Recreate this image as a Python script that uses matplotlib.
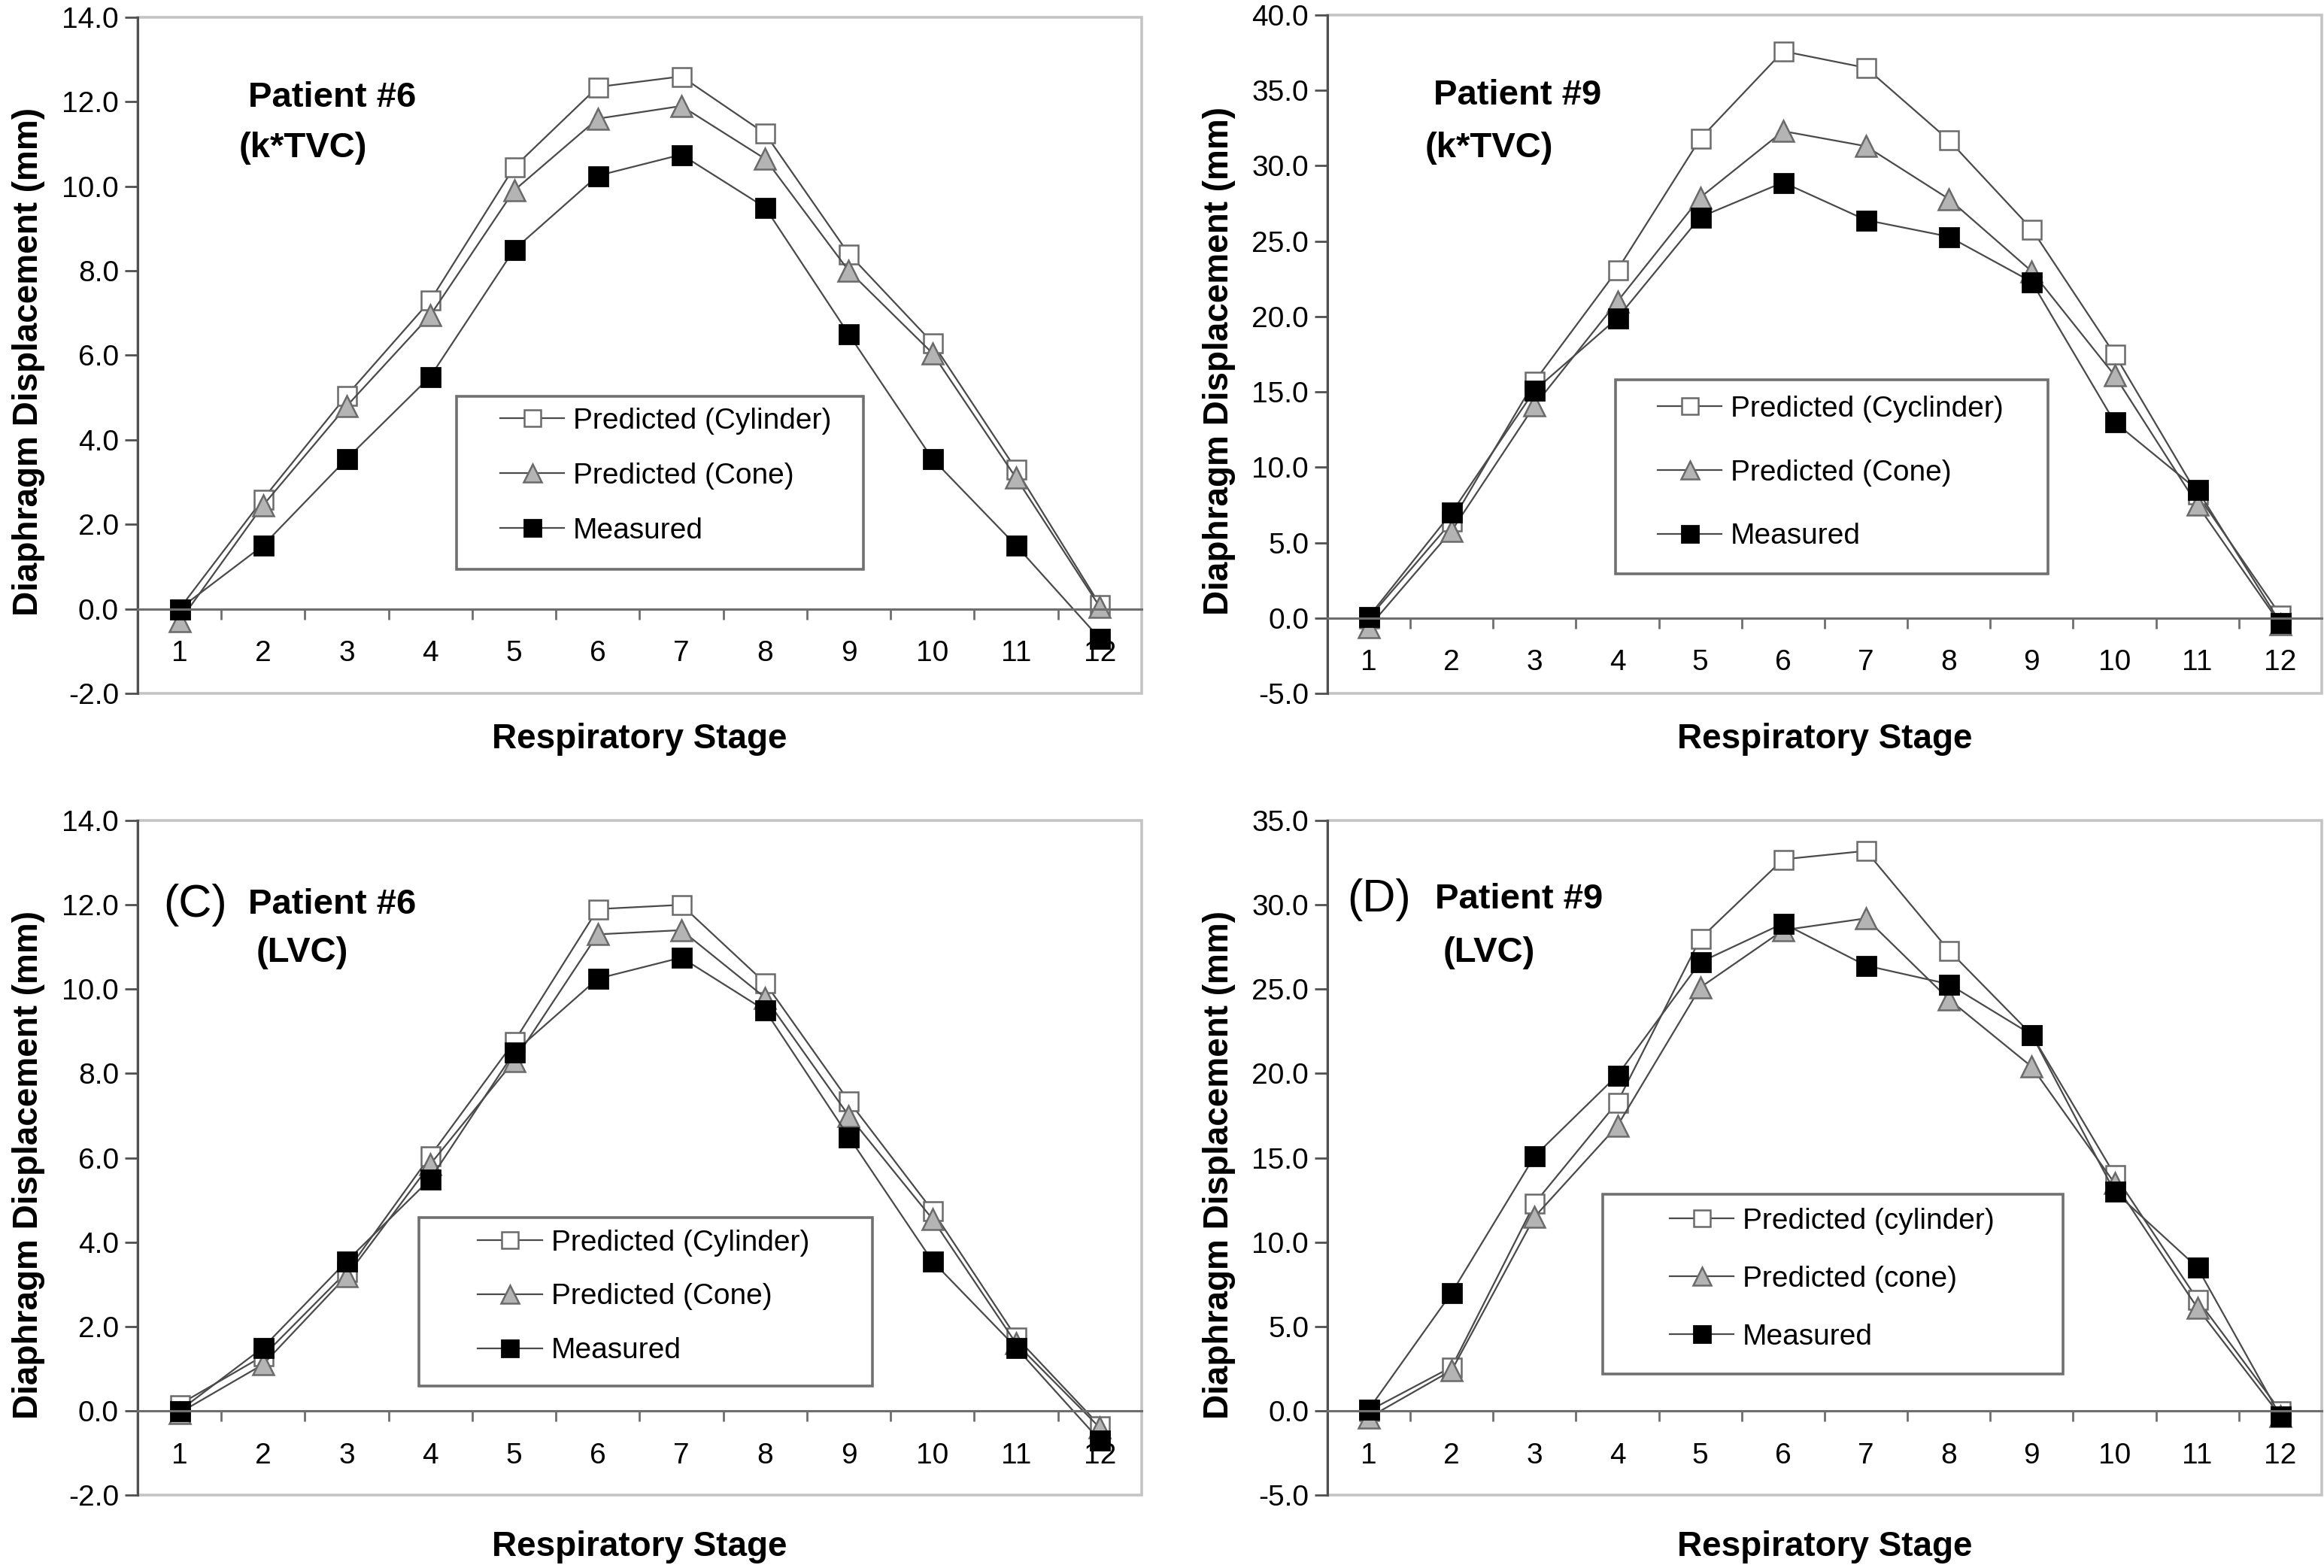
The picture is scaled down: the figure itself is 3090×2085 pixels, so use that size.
import numpy as np
import matplotlib
matplotlib.use('Agg')
import matplotlib.pyplot as plt
from matplotlib.patches import Rectangle

plt.rcParams['font.family'] = ['Liberation Sans', 'DejaVu Sans']

# ---- data ----
stages = np.arange(1, 13)

# Patient #6, k*TVC
p6_tvc_cyl = [0.0, 2.6, 5.05, 7.3, 10.45, 12.35, 12.6, 11.25, 8.4, 6.3, 3.3, 0.1]
p6_tvc_cone = [-0.3, 2.45, 4.8, 6.95, 9.9, 11.6, 11.9, 10.65, 8.0, 6.05, 3.1, 0.05]
p6_meas = [0.0, 1.5, 3.55, 5.5, 8.5, 10.25, 10.75, 9.5, 6.5, 3.55, 1.5, -0.7]

# Patient #9, k*TVC
p9_tvc_cyl = [0.0, 6.4, 15.7, 23.1, 31.8, 37.6, 36.5, 31.7, 25.8, 17.5, 8.2, 0.2]
p9_tvc_cone = [-0.6, 5.8, 14.1, 21.0, 27.9, 32.3, 31.3, 27.8, 23.0, 16.1, 7.5, -0.4]
p9_meas = [0.1, 7.0, 15.1, 19.9, 26.6, 28.9, 26.4, 25.3, 22.3, 13.0, 8.5, -0.3]

# Patient #6, LVC
p6_lvc_cyl = [0.15, 1.3, 3.3, 6.05, 8.75, 11.9, 12.0, 10.15, 7.35, 4.75, 1.75, -0.35]
p6_lvc_cone = [-0.05, 1.1, 3.2, 5.85, 8.3, 11.3, 11.4, 9.8, 7.0, 4.55, 1.6, -0.4]

# Patient #9, LVC
p9_lvc_cyl = [0.0, 2.6, 12.3, 18.3, 28.0, 32.7, 33.2, 27.3, 22.3, 14.0, 6.6, 0.0]
p9_lvc_cone = [-0.4, 2.4, 11.5, 16.9, 25.1, 28.5, 29.2, 24.4, 20.4, 13.5, 6.1, -0.3]

panels = [
    dict(rect=[0.0592, 0.5578, 0.4320, 0.4312], cyl=p6_tvc_cyl, cone=p6_tvc_cone, meas=p6_meas,
         ylim=(-2, 14), ystep=2, letter='', patient='Patient #6', method='(k*TVC)',
         labels=['Predicted (Cylinder)', 'Predicted (Cone)', 'Measured'],
         box=(0.318, 0.184, 0.723, 0.439), entry=(0.361, 0.402, 0.95),
         pos=[(0.110, 0.881), (0.101, 0.806)], xly=-0.043),
    dict(rect=[0.5712, 0.5578, 0.4278, 0.4326], cyl=p9_tvc_cyl, cone=p9_tvc_cone, meas=p9_meas,
         ylim=(-5, 40), ystep=5, letter='', patient='Patient #9', method='(k*TVC)',
         labels=['Predicted (Cyclinder)', 'Predicted (Cone)', 'Measured'],
         box=(0.290, 0.176, 0.725, 0.462), entry=(0.332, 0.418, 1.25),
         pos=[(0.107, 0.881), (0.098, 0.804)], xly=-0.043),
    dict(rect=[0.0592, 0.0465, 0.4320, 0.4302], cyl=p6_lvc_cyl, cone=p6_lvc_cone, meas=p6_meas,
         ylim=(-2, 14), ystep=2, letter='(C)', patient='Patient #6', method='(LVC)',
         labels=['Predicted (Cylinder)', 'Predicted (Cone)', 'Measured'],
         box=(0.280, 0.162, 0.732, 0.411), entry=(0.339, 0.373, 0.92),
         pos=[(0.110, 0.875), (0.118, 0.804)], lpos=(0.026, 0.875), xly=-0.052),
    dict(rect=[0.5712, 0.0465, 0.4278, 0.4302], cyl=p9_lvc_cyl, cone=p9_lvc_cone, meas=p9_meas,
         ylim=(-5, 35), ystep=5, letter='(D)', patient='Patient #9', method='(LVC)',
         labels=['Predicted (cylinder)', 'Predicted (cone)', 'Measured'],
         box=(0.277, 0.180, 0.740, 0.446), entry=(0.344, 0.405, 1.05),
         pos=[(0.108, 0.883), (0.116, 0.804)], lpos=(0.020, 0.883), xly=-0.052),
]

fig = plt.figure(figsize=(15.45, 10.425), dpi=200)

line_kw = dict(color='#4a4a4a', linewidth=0.8)
for p in panels:
    ax = fig.add_axes(p['rect'])
    h1, = ax.plot(stages, p['cyl'], marker='s', markersize=9, markerfacecolor='white',
                  markeredgecolor='#6a6a6a', markeredgewidth=0.9, label=p['labels'][0], **line_kw)
    h2, = ax.plot(stages, p['cone'], marker='^', markersize=10, markerfacecolor='#b4b4b4',
                  markeredgecolor='#6a6a6a', markeredgewidth=0.9, label=p['labels'][1], **line_kw)
    h3, = ax.plot(stages, p['meas'], marker='s', markersize=9, markerfacecolor='black',
                  markeredgecolor='black', label=p['labels'][2], **line_kw)

    ax.set_xlim(0.5, 12.5)
    ax.set_ylim(*p['ylim'])
    yt = np.arange(p['ylim'][0], p['ylim'][1] + 0.1, p['ystep'])
    ax.set_yticks(yt)
    ax.set_yticklabels([f'{v:.1f}' for v in yt])

    # category axis crossing at zero
    ax.spines['bottom'].set_position(('data', 0))
    ax.spines['bottom'].set_color('#6e6e6e')
    ax.spines['bottom'].set_linewidth(1.1)
    ax.spines['left'].set_color('#505050')
    ax.spines['left'].set_linewidth(1.1)
    ax.spines['top'].set_visible(False)
    ax.spines['right'].set_visible(False)
    ax.add_patch(Rectangle((0, 0), 1, 1, transform=ax.transAxes, fill=False,
                           edgecolor='#c4c4c4', linewidth=1.3, clip_on=False, zorder=0))

    ax.set_xticks(stages)
    ax.set_xticklabels([str(s) for s in stages])
    ax.set_xticks(np.arange(1.5, 12.0, 1.0), minor=True)
    ax.tick_params(axis='x', which='major', length=0, pad=15, labelsize=14)
    ax.tick_params(axis='x', which='minor', length=5, width=1.0, color='#6e6e6e', direction='out')
    ax.tick_params(axis='y', length=6, width=1.0, color='#505050', labelsize=14, pad=3)

    ax.set_xlabel('Respiratory Stage', fontsize=16.5, fontweight='bold')
    ax.xaxis.set_label_coords(0.5, p['xly'])
    ax.set_ylabel('Diaphragm Displacement (mm)', fontsize=16.5, fontweight='bold')
    ax.yaxis.set_label_coords(-0.092, 0.49)

    (px, py), (mx, my) = p['pos']
    ax.text(px, py, p['patient'], transform=ax.transAxes, fontsize=17, fontweight='bold',
            ha='left', va='center')
    ax.text(mx, my, p['method'], transform=ax.transAxes, fontsize=17, fontweight='bold',
            ha='left', va='center')
    if p['letter']:
        lx, ly = p['lpos']
        ax.text(lx, ly, p['letter'], transform=ax.transAxes, fontsize=22,
                ha='left', va='center')

    # legend box drawn as its own frame, entries placed inside it
    bx0, by0, bx1, by1 = p['box']
    ax.add_patch(Rectangle((bx0, by0), bx1 - bx0, by1 - by0, transform=ax.transAxes,
                           facecolor='white', edgecolor='#707070', linewidth=1.3, zorder=4))
    ex, ey, lsp = p['entry']
    leg = ax.legend(handles=[h1, h2, h3], loc='upper left', bbox_to_anchor=(ex, ey + 0.021),
                    borderaxespad=0, borderpad=0, fontsize=14, frameon=False,
                    handlelength=2.2, handletextpad=0.3, labelspacing=lsp, markerscale=0.85)
    leg.set_zorder(5)

fig.savefig('out.png', dpi=200, facecolor='white')
